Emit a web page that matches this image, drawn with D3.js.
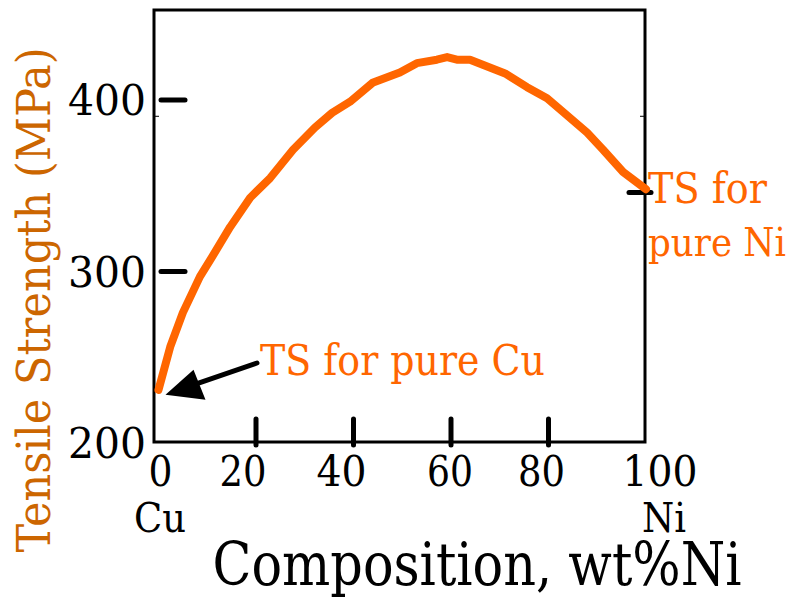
<!DOCTYPE html>
<html><head><meta charset="utf-8">
<script src="https://cdn.jsdelivr.net/npm/d3@7"></script>
<style>html,body{margin:0;padding:0;background:#fff;}svg{display:block;}</style>
</head><body>
<script>
// Data
const composition = [0, 2.4, 5.0, 8.5, 11.0, 14.7, 18.8, 22.9, 27.6, 32.1, 35.6, 39.3, 43.9, 49.5, 53.0, 57.1, 59.2, 61.2, 63.9, 71.1, 75.6, 79.7, 83.0, 87.9, 91.2, 95.3, 100];
const tensile = [231, 256, 276, 297, 308.5, 326, 343, 354.5, 371, 384, 392.5, 399, 410, 416, 421.5, 423.5, 425, 423.5, 423.5, 415.5, 407.5, 401, 393, 381, 371, 358, 348];
const xTicks = [0, 20, 40, 60, 80, 100];
const xTickLabels = ["0", "20", "40", "60", "80", "100"];
const yTicks = [200, 300, 400];
const yTickLabels = ["200", "300", "400"];
const pureNiTick = 346;
const endLabels = ["Cu", "Ni"];

const W = 796, H = 603;
const FONT = "DejaVu Serif";
const svg = d3.select("body").append("svg").attr("width", W).attr("height", H);

const x = d3.scaleLinear().domain([0, 100]).range([158.5, 646]);
const y = d3.scaleLinear().domain([200, 400]).range([443, 100]);

const frame = {left: 154, right: 645, top: 10, bottom: 442};

function txt(sel, size, len) {
  sel.attr("font-family", FONT).attr("font-size", size);
  if (len) sel.attr("textLength", len).attr("lengthAdjust", "spacingAndGlyphs");
  return sel;
}

svg.append("rect").attr("x", frame.left).attr("y", frame.top)
  .attr("width", frame.right - frame.left).attr("height", frame.bottom - frame.top)
  .attr("fill", "none").attr("stroke", "#000").attr("stroke-width", 3);

[[frame.left, frame.left + 5], [frame.right - 5, frame.right]].forEach(([a, b]) => {
  svg.append("line").attr("x1", a).attr("x2", b).attr("y1", y(390.5)).attr("y2", y(390.5))
    .attr("stroke", "#000").attr("stroke-width", 1);
});

svg.selectAll(".yt").data(yTicks.filter(d => d > 200)).enter().append("line")
  .attr("x1", 161).attr("x2", 185).attr("y1", d => y(d)).attr("y2", d => y(d))
  .attr("stroke", "#000").attr("stroke-width", 5).attr("stroke-linecap", "round");
svg.append("line").attr("x1", 629).attr("x2", 651).attr("y1", y(pureNiTick)).attr("y2", y(pureNiTick))
  .attr("stroke", "#000").attr("stroke-width", 5).attr("stroke-linecap", "round");

svg.selectAll(".xt").data(xTicks.filter(d => d > 0 && d < 100)).enter().append("line")
  .attr("x1", d => x(d)).attr("x2", d => x(d)).attr("y1", 419).attr("y2", 445)
  .attr("stroke", "#000").attr("stroke-width", 5).attr("stroke-linecap", "round");

// y tick labels
svg.selectAll(".yl").data(yTicks).enter().append("text")
  .attr("x", 146).attr("y", d => y(d) + 15)
  .attr("text-anchor", "end").attr("fill", "#000")
  .each(function() { txt(d3.select(this), 43, 78); })
  .text((d, i) => yTickLabels[i]);

// x tick labels
const xLabelShift = {0: 2, 20: -13, 40: -12, 60: -1, 80: -7, 100: 14};
svg.selectAll(".xl").data(xTicks).enter().append("text")
  .attr("x", d => x(d) + xLabelShift[d]).attr("y", 486)
  .attr("text-anchor", "middle").attr("fill", "#000")
  .each(function(d, i) { txt(d3.select(this), 42, [24, 47, 50, 46, 47, 75][i]); })
  .text((d, i) => xTickLabels[i]);

// Cu / Ni
txt(svg.append("text").attr("x", 160).attr("y", 532).attr("text-anchor", "middle"), 41, 52).text(endLabels[0]);
txt(svg.append("text").attr("x", 664).attr("y", 532).attr("text-anchor", "middle"), 41, 44).text(endLabels[1]);

// x title
txt(svg.append("text").attr("x", 477).attr("y", 585).attr("text-anchor", "middle").attr("fill", "#000"), 59, 529)
  .text("Composition, wt%Ni");

// y title
txt(svg.append("text").attr("transform", "translate(50,300) rotate(-90)")
  .attr("text-anchor", "middle").attr("fill", "#CC6600"), 47, 505)
  .text("Tensile Strength (MPa)");

// curve
const line = d3.line().x((d, i) => x(composition[i])).y(d => y(d));
svg.append("path").datum(tensile).attr("d", line)
  .attr("fill", "none").attr("stroke", "#FF6600").attr("stroke-width", 8)
  .attr("stroke-linejoin", "round").attr("stroke-linecap", "round");

// arrow
const tipX = x(0) + 7, tipY = y(tensile[0]) + 5;
svg.append("line").attr("x1", 257).attr("y1", 363).attr("x2", tipX + 25).attr("y2", tipY - 9)
  .attr("stroke", "#000").attr("stroke-width", 5).attr("stroke-linecap", "round");
svg.append("path")
  .attr("d", `M${tipX},${tipY} L${tipX + 28},${tipY - 25} L${tipX + 40},${tipY + 5} Z`)
  .attr("fill", "#000");

// annotations
txt(svg.append("text").attr("x", 260).attr("y", 375).attr("fill", "#FF6600"), 43, 285).text("TS for pure Cu");
txt(svg.append("text").attr("x", 648).attr("y", 203).attr("fill", "#FF6600"), 42, 119).text("TS for");
txt(svg.append("text").attr("x", 648).attr("y", 256).attr("fill", "#FF6600"), 40, 138).text("pure Ni");
</script>
</body></html>
